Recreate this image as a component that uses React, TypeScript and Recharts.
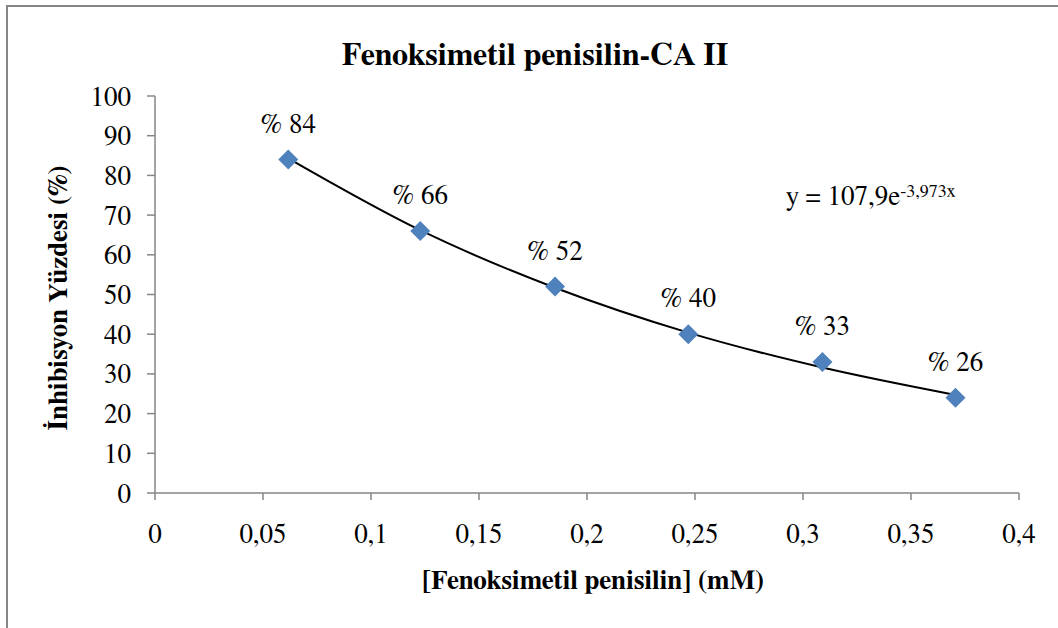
import React from "react";
import { ComposedChart, Scatter, Line, XAxis, YAxis } from "recharts";

const concentrations = [0.0617, 0.1228, 0.1852, 0.2469, 0.309, 0.3706];
const inhibition = [84, 66, 52, 40, 33, 24];
const pointLabels = ["% 84", "% 66", "% 52", "% 40", "% 33", "% 26"];
// exponential trendline at each concentration
const trendValues = [84.3, 66.2, 51.7, 40.4, 31.6, 24.7];

const xTicks = [0, 0.05, 0.1, 0.15, 0.2, 0.25, 0.3, 0.35, 0.4];
const yTicks = [0, 10, 20, 30, 40, 50, 60, 70, 80, 90, 100];

const data = concentrations.map((x, i) => ({
  x,
  pct: inhibition[i],
  trend: trendValues[i],
  label: pointLabels[i],
}));

const FONT = "FreeSerif, 'Liberation Serif', serif";
const AXIS = "#868686";

function Diamond(props: any) {
  const { cx, cy, payload } = props;
  const r = 10;
  return (
    <g>
      <path
        d={`M${cx},${cy - r}L${cx + r},${cy}L${cx},${cy + r}L${cx - r},${cy}Z`}
        fill="#4F81BD"
      />
      <text
        x={cx}
        y={cy - 27}
        textAnchor="middle"
        style={{ fontFamily: FONT, fontSize: 27 }}
        fill="#000"
      >
        {payload.label}
      </text>
    </g>
  );
}

export default function App() {
  const tick = { fill: "#000", fontSize: 27, fontFamily: FONT };
  return (
    <div
      style={{
        position: "absolute",
        left: 0,
        top: 0,
        width: 1058,
        height: 628,
        background: "#fff",
        overflow: "hidden",
        fontFamily: FONT,
      }}
    >
      <style>{`.recharts-wrapper text, .recharts-surface text { font-family: ${FONT} !important; }`}</style>
      <div
        style={{
          position: "absolute",
          left: 6,
          top: 5,
          width: 1100,
          height: 700,
          border: `2px solid ${AXIS}`,
        }}
      />
      <div style={{ position: "absolute", left: 0, top: 0 }}>
        <ComposedChart
          width={1058}
          height={628}
          data={data}
          margin={{ top: 96, right: 39, left: 0, bottom: 0 }}
        >
          <XAxis
            type="number"
            dataKey="x"
            domain={[0, 0.4]}
            ticks={xTicks}
            interval={0}
            height={135}
            tickSize={7}
            tickMargin={24}
            tick={tick}
            tickFormatter={(v: number) => String(v).replace(".", ",")}
            axisLine={{ stroke: AXIS, strokeWidth: 1.5 }}
            tickLine={{ stroke: AXIS, strokeWidth: 1.5 }}
          />
          <YAxis
            type="number"
            domain={[0, 100]}
            ticks={yTicks}
            interval={0}
            width={155}
            tickSize={8}
            tickMargin={16}
            tick={tick}
            axisLine={{ stroke: AXIS, strokeWidth: 1.5 }}
            tickLine={{ stroke: AXIS, strokeWidth: 1.5 }}
          />
          <Scatter dataKey="pct" shape={<Diamond />} isAnimationActive={false} />
          <Line
            type="monotone"
            dataKey="trend"
            stroke="#000"
            strokeWidth={2}
            dot={false}
            activeDot={false}
            isAnimationActive={false}
          />
        </ComposedChart>
      </div>
      <svg
        width={1058}
        height={628}
        style={{ position: "absolute", left: 0, top: 0, pointerEvents: "none", fontFamily: FONT }}
      >
        <text x={535} y={65} textAnchor="middle" fontSize={32} fontWeight="bold">
          Fenoksimetil penisilin-CA II
        </text>
        <text x={593} y={589} textAnchor="middle" fontSize={27} fontWeight="bold">
          [Fenoksimetil penisilin] (mM)
        </text>
        <text
          transform="translate(67,298) rotate(-90)"
          textAnchor="middle"
          fontSize={27}
          fontWeight="bold"
        >
          İnhibisyon Yüzdesi (%)
        </text>
        <text x={786} y={205} fontSize={27}>
          y = 107,9e
          <tspan fontSize={18} dy={-8}>
            -3,973x
          </tspan>
        </text>
      </svg>
    </div>
  );
}
